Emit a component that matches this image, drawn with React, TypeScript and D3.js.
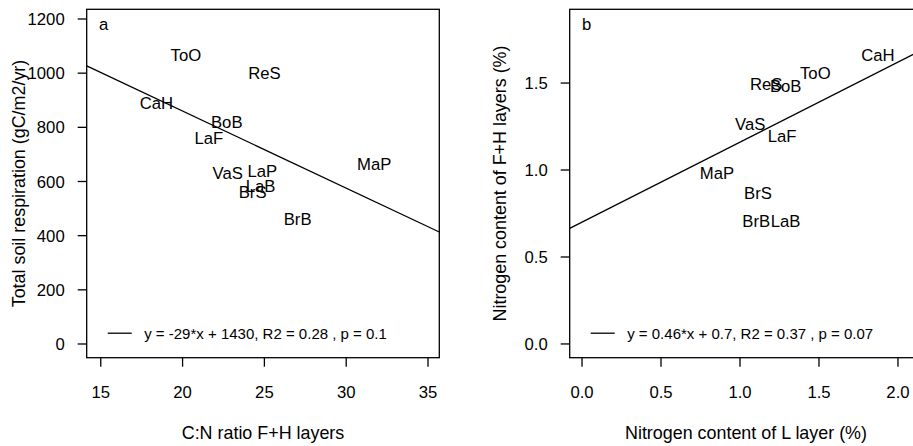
import React from "react";
import * as d3 from "d3";

// Panel a data
const sitesA = ["ToO", "ReS", "CaH", "BoB", "LaF", "VaS", "LaP", "LaB", "BrS", "BrB", "MaP"];
const cnRatio = [20.2, 25.0, 18.4, 22.7, 21.6, 22.76, 24.87, 24.77, 24.28, 27.03, 31.71];
const respiration = [1067, 1002, 891, 819, 762, 630, 639, 583, 560, 462, 663];
const fitA = { slope: -28.45, intercept: 1429 };
const legendA = "y = -29*x + 1430, R2 = 0.28 , p = 0.1";
const xTicksA = [15, 20, 25, 30, 35];
const yTicksA = [0, 200, 400, 600, 800, 1000, 1200];

// Panel b data
const sitesB = ["CaH", "ToO", "ReS", "BoB", "VaS", "LaF", "MaP", "BrS", "BrB", "LaB"];
const nL = [1.873, 1.477, 1.166, 1.289, 1.065, 1.266, 0.854, 1.114, 1.103, 1.289];
const nFH = [1.661, 1.559, 1.494, 1.483, 1.264, 1.197, 0.981, 0.87, 0.707, 0.707];
const fitB = { slope: 0.46, intercept: 0.7 };
const legendB = "y = 0.46*x + 0.7, R2 = 0.37 , p = 0.07";
const xTicksB = [0, 0.5, 1.0, 1.5, 2.0];
const yTicksB = [0, 0.5, 1.0, 1.5];

const FONT = "'Liberation Sans', Arial, sans-serif";
const FS = 16.7;
const TFS = 17.9;
const LFS = 15;

type PanelProps = {
  left: number;
  right: number;
  top: number;
  bottom: number;
  xDomain: [number, number];
  yDomain: [number, number];
  xTicks: number[];
  yTicks: number[];
  xFmt: (v: number) => string;
  yFmt: (v: number) => string;
  labels: string[];
  xs: number[];
  ys: number[];
  fit: { slope: number; intercept: number };
  legend: string;
  letter: string;
  xTitle: string;
  yTitle: string;
  yTitleX: number;
  clipId: string;
};

function Panel(p: PanelProps) {
  const x = d3.scaleLinear().domain(p.xDomain).range([p.left, p.right]);
  const y = d3.scaleLinear().domain(p.yDomain).range([p.bottom, p.top]);
  const line = d3
    .line<number>()
    .x((d) => x(d))
    .y((d) => y(p.fit.intercept + p.fit.slope * d));
  const cx = (p.left + p.right) / 2;
  const cy = (p.top + p.bottom) / 2;
  return (
    <g fontFamily={FONT} fill="#000">
      <defs>
        <clipPath id={p.clipId}>
          <rect x={p.left} y={p.top} width={p.right - p.left} height={p.bottom - p.top} />
        </clipPath>
      </defs>
      <path
        d={line(p.xDomain) || ""}
        stroke="#000"
        strokeWidth={1.3}
        fill="none"
        clipPath={`url(#${p.clipId})`}
      />
      {p.labels.map((l, i) => (
        <text key={l} x={x(p.xs[i])} y={y(p.ys[i])} dy="0.36em" textAnchor="middle" fontSize={FS}>
          {l}
        </text>
      ))}
      <rect
        x={p.left}
        y={p.top}
        width={p.right - p.left}
        height={p.bottom - p.top}
        fill="none"
        stroke="#000"
        strokeWidth={1.3}
      />
      {p.yTicks.map((t) => (
        <g key={t}>
          <line x1={p.left - 9} x2={p.left} y1={y(t)} y2={y(t)} stroke="#000" strokeWidth={1.3} />
          <text x={p.left - 22} y={y(t)} dy="0.36em" textAnchor="end" fontSize={FS}>
            {p.yFmt(t)}
          </text>
        </g>
      ))}
      {p.xTicks.map((t) => (
        <g key={t}>
          <line x1={x(t)} x2={x(t)} y1={p.bottom} y2={p.bottom + 9} stroke="#000" strokeWidth={1.3} />
          <text x={x(t)} y={p.bottom + 34.5} dy="0.36em" textAnchor="middle" fontSize={FS}>
            {p.xFmt(t)}
          </text>
        </g>
      ))}
      <text x={p.left + 17} y={p.top + 15} dy="0.36em" fontSize={FS} textAnchor="middle">
        {p.letter}
      </text>
      <line x1={p.left + 21} x2={p.left + 45} y1={p.bottom - 24.5} y2={p.bottom - 24.5} stroke="#000" strokeWidth={1.3} />
      <text x={p.left + 57.5} y={p.bottom - 24} dy="0.36em" fontSize={LFS}>
        {p.legend}
      </text>
      <text x={cx} y={433} dy="0.36em" textAnchor="middle" fontSize={TFS}>
        {p.xTitle}
      </text>
      <text
        transform={`translate(${p.yTitleX},${cy}) rotate(-90)`}
        dy="0.36em"
        textAnchor="middle"
        fontSize={TFS}
      >
        {p.yTitle}
      </text>
    </g>
  );
}

export default function App() {
  const top = 9.3;
  const bottom = 357.7;
  return (
    <svg
      width={913}
      height={446}
      style={{ position: "absolute", left: 0, top: 0, background: "#fff" }}
    >
      <rect x={0} y={0} width={913} height={446} fill="#fff" />
      <Panel
        left={86.7}
        right={439.3}
        top={top}
        bottom={bottom}
        xDomain={[14.14, 35.69]}
        yDomain={[-50.6, 1235.8]}
        xTicks={xTicksA}
        yTicks={yTicksA}
        xFmt={(v) => String(v)}
        yFmt={(v) => String(v)}
        labels={sitesA}
        xs={cnRatio}
        ys={respiration}
        fit={fitA}
        legend={legendA}
        letter="a"
        xTitle="C:N ratio F+H layers"
        yTitle="Total soil respiration (gC/m2/yr)"
        yTitleX={19}
        clipId="clipA"
      />
      <Panel
        left={569.7}
        right={922.3}
        top={top}
        bottom={bottom}
        xDomain={[-0.078, 2.154]}
        yDomain={[-0.079, 1.924]}
        xTicks={xTicksB}
        yTicks={yTicksB}
        xFmt={(v) => v.toFixed(1)}
        yFmt={(v) => v.toFixed(1)}
        labels={sitesB}
        xs={nL}
        ys={nFH}
        fit={fitB}
        legend={legendB}
        letter="b"
        xTitle="Nitrogen content of L layer (%)"
        yTitle="Nitrogen content of F+H layers (%)"
        yTitleX={500}
        clipId="clipB"
      />
    </svg>
  );
}
